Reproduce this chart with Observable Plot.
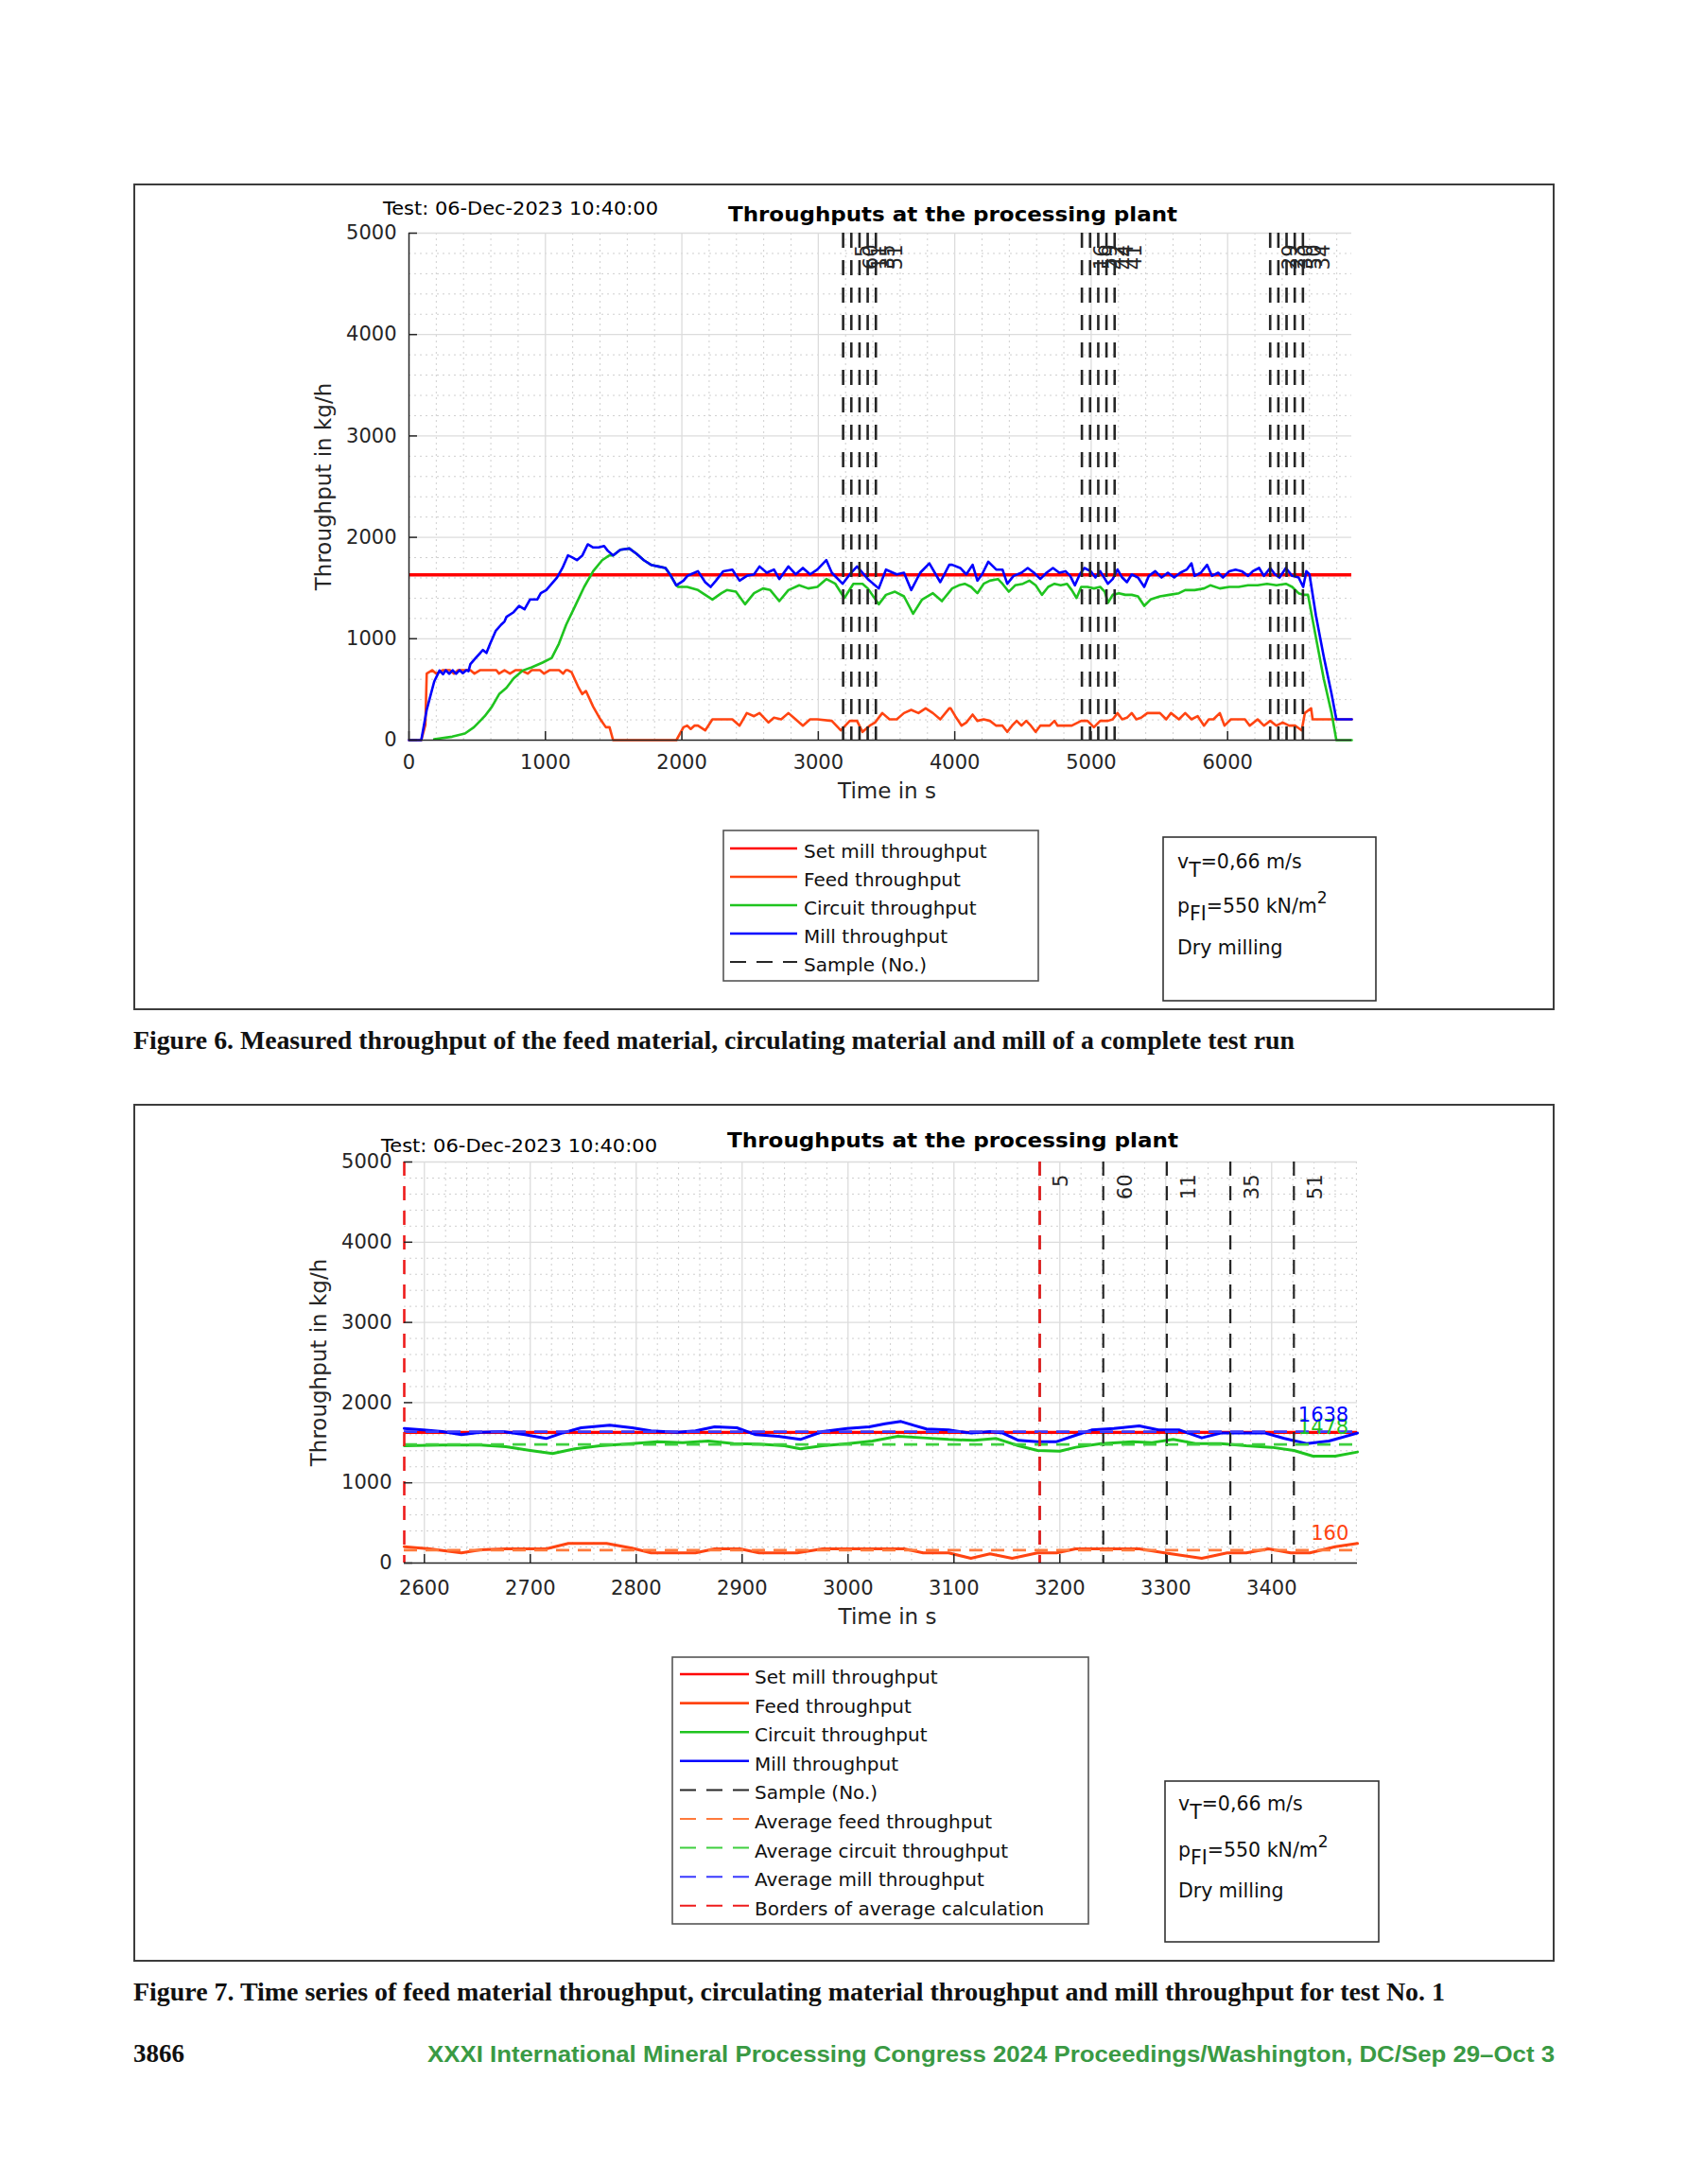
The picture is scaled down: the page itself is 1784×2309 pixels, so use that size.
<!DOCTYPE html>
<html>
<head>
<meta charset="utf-8">
<script src="https://cdn.jsdelivr.net/npm/d3@7"></script>
<script src="https://cdn.jsdelivr.net/npm/@observablehq/plot@0.6"></script>
<style>
  body { margin: 0; background: #fff; }
  #page { position: relative; width: 1784px; height: 2309px; background: #fff; overflow: hidden; }
  #deco { position: absolute; left: 0; top: 0; }
  .chart { position: absolute; }
  .chart svg { max-width: none; }
</style>
</head>
<body>
<div id="page">
  <svg id="deco" width="1784" height="2309"></svg>
  <div id="chart1" class="chart" style="left:300px; top:236px;"></div>
  <div id="chart2" class="chart" style="left:300px; top:1218px;"></div>
</div>
<script>
// ---------------- DATA ----------------
const yTicks = [0, 1000, 2000, 3000, 4000, 5000];
const topXTicks = [0, 1000, 2000, 3000, 4000, 5000, 6000];
const bottomXTicks = [2600, 2700, 2800, 2900, 3000, 3100, 3200, 3300, 3400];
const topXDomain = [0, 6910];
const bottomXDomain = [2581, 3481];
const setMill = 1630;

// Figure 6 – complete test run: [time s, kg/h]
const topFeed = [[0,0],[90,0],[120,150],[130,656],[170,690],[200,656],[250,690],[300,690],[330,656],[360,690],[420,690],[450,690],[480,656],[520,690],[600,690],[640,690],[660,656],[700,690],[740,656],[780,690],[820,690],[870,656],[900,690],[960,690],[990,656],[1030,690],[1100,690],[1130,656],[1150,690],[1165,690],[1191,671],[1244,516],[1270,454],[1297,485],[1350,330],[1403,205],[1443,127],[1470,127],[1496,0],[1960,0],[2012,127],[2039,143],[2065,110],[2092,143],[2118,143],[2171,96],[2224,205],[2290,205],[2370,205],[2423,143],[2476,267],[2529,236],[2569,267],[2635,174],[2675,221],[2728,205],[2781,267],[2834,205],[2887,143],[2940,205],[2993,205],[3099,190],[3165,96],[3231,190],[3284,190],[3324,81],[3377,143],[3416,174],[3469,267],[3522,205],[3575,205],[3628,267],[3681,298],[3734,267],[3787,314],[3840,267],[3894,205],[3960,314],[3970,314],[4004,236],[4050,143],[4085,174],[4131,252],[4166,190],[4212,205],[4258,190],[4304,143],[4350,143],[4385,81],[4420,143],[4454,190],[4489,143],[4524,190],[4558,143],[4593,81],[4627,143],[4696,143],[4731,190],[4754,143],[4858,143],[4927,190],[4973,190],[5020,127],[5066,190],[5123,190],[5158,205],[5193,267],[5227,205],[5262,221],[5297,267],[5331,205],[5366,221],[5412,267],[5504,267],[5550,205],[5585,267],[5643,205],[5689,267],[5735,205],[5781,236],[5827,143],[5862,205],[5896,205],[5943,267],[5977,143],[6024,205],[6070,205],[6127,205],[6162,143],[6220,205],[6266,143],[6312,190],[6358,143],[6404,174],[6450,143],[6496,143],[6543,96],[6566,267],[6612,314],[6623,205],[6910,205]];

const topCircuit = [[185,10],[317,34],[410,65],[476,127],[555,236],[608,330],[661,454],[714,516],[767,609],[834,687],[900,718],[979,765],[1046,811],[1099,951],[1152,1138],[1218,1324],[1284,1511],[1350,1666],[1416,1775],[1469,1822],[1496,1822],[1549,1878],[1615,1890],[1668,1837],[1721,1775],[1774,1729],[1827,1713],[1880,1698],[1920,1620],[1959,1527],[1973,1511],[2039,1511],[2118,1480],[2171,1433],[2224,1387],[2290,1449],[2330,1480],[2396,1464],[2463,1340],[2529,1449],[2595,1496],[2648,1480],[2714,1371],[2781,1480],[2860,1527],[2926,1496],[2993,1511],[3059,1589],[3125,1542],[3191,1402],[3257,1542],[3324,1542],[3363,1496],[3443,1340],[3496,1433],[3562,1464],[3628,1418],[3695,1247],[3761,1387],[3840,1449],[3906,1371],[3981,1496],[4030,1527],[4073,1542],[4120,1511],[4166,1449],[4212,1542],[4258,1573],[4316,1589],[4350,1542],[4396,1464],[4443,1527],[4500,1542],[4547,1573],[4593,1527],[4639,1433],[4685,1511],[4731,1542],[4777,1527],[4823,1542],[4858,1480],[4893,1402],[4927,1511],[4973,1511],[5020,1496],[5066,1511],[5100,1464],[5123,1355],[5158,1433],[5204,1449],[5250,1433],[5297,1433],[5343,1418],[5389,1324],[5435,1387],[5504,1418],[5573,1433],[5643,1449],[5689,1480],[5758,1480],[5827,1496],[5873,1527],[5943,1496],[6012,1511],[6081,1511],[6150,1527],[6220,1527],[6289,1542],[6358,1527],[6427,1542],[6473,1511],[6520,1449],[6554,1433],[6589,1433],[6647,1014],[6704,609],[6762,267],[6797,0],[6910,0]];

const topMill = [[0,0],[90,0],[130,300],[185,578],[224,687],[250,650],[270,690],[295,655],[320,690],[345,655],[370,690],[395,660],[420,690],[436,680],[450,749],[489,811],[542,889],[568,860],[595,951],[635,1076],[675,1138],[700,1170],[715,1216],[767,1262],[807,1324],[847,1290],[887,1387],[940,1387],[966,1449],[1006,1480],[1046,1542],[1085,1604],[1125,1698],[1165,1822],[1191,1806],[1231,1775],[1271,1822],[1310,1931],[1350,1900],[1390,1900],[1430,1915],[1456,1869],[1496,1822],[1549,1878],[1615,1890],[1668,1837],[1721,1775],[1774,1729],[1827,1713],[1880,1698],[1920,1620],[1959,1527],[2012,1573],[2040,1620],[2065,1635],[2118,1666],[2171,1558],[2211,1511],[2250,1573],[2304,1666],[2370,1682],[2423,1573],[2476,1620],[2529,1635],[2569,1713],[2622,1651],[2675,1682],[2714,1589],[2781,1713],[2834,1635],[2887,1698],[2940,1635],[2993,1682],[3059,1775],[3099,1651],[3178,1542],[3231,1635],[3284,1713],[3363,1589],[3443,1496],[3496,1682],[3575,1635],[3628,1651],[3681,1480],[3747,1651],[3814,1744],[3894,1558],[3960,1729],[3981,1729],[4040,1698],[4085,1635],[4131,1729],[4166,1573],[4200,1635],[4246,1760],[4304,1682],[4350,1682],[4385,1542],[4431,1620],[4489,1651],[4535,1698],[4581,1651],[4627,1589],[4673,1651],[4720,1698],[4766,1651],[4812,1666],[4846,1620],[4881,1527],[4916,1635],[4950,1698],[4996,1666],[5031,1604],[5066,1666],[5123,1542],[5158,1589],[5193,1682],[5227,1604],[5262,1558],[5297,1635],[5343,1604],[5389,1511],[5423,1620],[5470,1666],[5516,1604],[5562,1651],[5608,1604],[5654,1651],[5700,1682],[5735,1744],[5758,1620],[5804,1651],[5850,1729],[5885,1620],[5931,1651],[5966,1604],[6012,1666],[6058,1682],[6104,1666],[6150,1620],[6185,1666],[6231,1698],[6266,1620],[6312,1698],[6347,1635],[6381,1604],[6427,1698],[6473,1620],[6520,1604],[6554,1511],[6577,1666],[6600,1635],[6647,1231],[6704,827],[6762,454],[6797,205],[6910,205]];

const topSampleT = [3182, 3242, 3302, 3362, 3422, 4932, 4992, 5052, 5112, 5172, 6312, 6372, 6432, 6492, 6552];
const topSampleLabels = ["5", "60", "11", "35", "51", "16", "59", "42", "44", "41", "29", "23", "30", "50", "34"];

// Figure 7 – averaging window of test No. 1
const bottomFeed = [[2581,204],[2605,177],[2635,126],[2653,165],[2677,177],[2715,177],[2736,244],[2772,244],[2796,185],[2814,126],[2856,126],[2874,177],[2898,177],[2916,126],[2952,126],[2976,177],[3053,177],[3071,126],[3095,126],[3116,59],[3134,114],[3155,59],[3179,126],[3197,126],[3215,177],[3275,177],[3299,126],[3334,59],[3358,126],[3376,126],[3397,177],[3418,126],[3436,126],[3460,204],[3481,244]];
const bottomCircuit = [[2581,1462],[2617,1470],[2653,1470],[2677,1450],[2700,1403],[2721,1364],[2742,1423],[2766,1462],[2796,1490],[2820,1513],[2844,1502],[2868,1521],[2892,1490],[2916,1482],[2940,1462],[2955,1423],[2976,1462],[3000,1490],[3023,1521],[3047,1580],[3071,1561],[3095,1541],[3119,1529],[3140,1553],[3161,1462],[3179,1403],[3200,1395],[3215,1443],[3239,1490],[3269,1513],[3287,1502],[3307,1541],[3328,1490],[3352,1490],[3376,1462],[3400,1443],[3421,1403],[3439,1333],[3460,1333],[3481,1384]];
const bottomMill = [[2581,1678],[2599,1659],[2617,1639],[2635,1600],[2653,1631],[2674,1639],[2695,1600],[2715,1553],[2730,1620],[2748,1686],[2775,1718],[2796,1686],[2814,1647],[2838,1631],[2856,1647],[2874,1698],[2895,1686],[2913,1600],[2934,1580],[2955,1541],[2976,1639],[2999,1678],[3020,1698],[3035,1737],[3050,1765],[3062,1718],[3074,1671],[3095,1659],[3116,1620],[3134,1639],[3146,1620],[3161,1529],[3179,1513],[3197,1513],[3212,1580],[3230,1659],[3251,1678],[3275,1710],[3293,1659],[3313,1659],[3334,1561],[3352,1620],[3376,1620],[3394,1620],[3412,1553],[3433,1490],[3454,1521],[3481,1620]];
const bottomSampleT = [3181, 3241, 3301, 3361, 3421];
const bottomSampleLabels = ["5", "60", "11", "35", "51"];
const borderT = [2581, 3181];
const avgNames = ["feed", "circuit", "mill"];
const avgValues = [160, 1478, 1638];
const avgLabelT = [3437, 3425, 3425];

// Legends
const legendTopNames = ["Set mill throughput", "Feed throughput", "Circuit throughput", "Mill throughput", "Sample (No.)"];
const legendBottomNames = ["Set mill throughput", "Feed throughput", "Circuit throughput", "Mill throughput", "Sample (No.)", "Average feed throughput", "Average circuit throughput", "Average mill throughput", "Borders of average calculation"];

// ---------------- STYLE ----------------
const C = {
  set: "#ff0000", feed: "#ff4411", circuit: "#1fc41f", mill: "#0000ff", sample: "#262626",
  avgFeed: "#ff7a3c", avgCircuit: "#3fcf3f", avgMill: "#3a3aff", border: "#ee1c1c",
  axis: "#262626", gridMajor: "#dcdcdc", gridMinor: "#cfcfcf"
};
const legendTopStyle = [
  {color: C.set, dash: null}, {color: C.feed, dash: null}, {color: C.circuit, dash: null},
  {color: C.mill, dash: null}, {color: C.sample, dash: "17,11"}
];
const legendBottomStyle = legendTopStyle.concat([
  {color: C.avgFeed, dash: "17,11"}, {color: C.avgCircuit, dash: "17,11"},
  {color: C.avgMill, dash: "17,11"}, {color: C.border, dash: "17,11"}
]);
const FONT = "'DejaVu Sans', sans-serif";

const px = d => d[0], py = d => d[1];

// ---------------- CHART 1 ----------------
{
  const W = 1160, H = 634, ML = 132, MR = 31, MT = 10, MB = 88;
  const PW = W - ML - MR, PH = H - MT - MB;
  const samples = topSampleT.map((t, i) => ({t, label: topSampleLabels[i]}));
  const xMinor = d3.range(200, topXDomain[1], 200).filter(v => v % 1000 !== 0);
  const yMinor = d3.range(200, 5000, 200).filter(v => v % 1000 !== 0);
  const chart = Plot.plot({
    width: W, height: H, marginLeft: ML, marginRight: MR, marginTop: MT, marginBottom: MB,
    style: {fontFamily: FONT, fontSize: "21px", background: "transparent", color: C.axis, overflow: "visible"},
    x: {domain: topXDomain},
    y: {domain: [0, 5000]},
    marks: [
      Plot.ruleX(xMinor, {stroke: C.gridMinor, strokeWidth: 1, strokeDasharray: "2,4"}),
      Plot.ruleY(yMinor, {stroke: C.gridMinor, strokeWidth: 1, strokeDasharray: "2,4"}),
      Plot.ruleX(topXTicks.slice(1), {stroke: C.gridMajor, strokeWidth: 1.3}),
      Plot.ruleY(yTicks.slice(1), {stroke: C.gridMajor, strokeWidth: 1.3}),
      Plot.ruleY([setMill], {stroke: C.set, strokeWidth: 3.6}),
      Plot.line(topFeed, {x: px, y: py, stroke: C.feed, strokeWidth: 2.6}),
      Plot.line(topCircuit, {x: px, y: py, stroke: C.circuit, strokeWidth: 2.6}),
      Plot.line(topMill, {x: px, y: py, stroke: C.mill, strokeWidth: 2.6}),
      Plot.ruleX(samples, {x: "t", stroke: C.sample, strokeWidth: 2.6, strokeDasharray: "16,13"}),
      Plot.text(samples, {x: "t", y: () => 5000, text: "label", rotate: -90, textAnchor: "end", lineAnchor: "top", dx: 13, dy: 12, fill: C.axis, fontSize: 21}),
      Plot.ruleY([0], {stroke: C.axis, strokeWidth: 1.5}),
      Plot.ruleX([topXDomain[0]], {stroke: C.axis, strokeWidth: 1.5}),
      Plot.tickY(yTicks, {y: d => d, stroke: C.axis, strokeWidth: 1.5, insetRight: PW - 9}),
      Plot.tickX(topXTicks, {x: d => d, stroke: C.axis, strokeWidth: 1.5, insetTop: PH - 9}),
      Plot.axisX(topXTicks, {tickSize: 0, tickPadding: 16, tickFormat: d => String(d), label: null}),
      Plot.axisY(yTicks, {tickSize: 0, tickPadding: 13, tickFormat: d => String(d), label: null}),
      Plot.text(["Throughput in kg/h"], {text: d => d, frameAnchor: "left", textAnchor: "middle", lineAnchor: "middle", rotate: -90, dx: -90, fontSize: 23, fill: C.axis}),
      Plot.text(["Time in s"], {text: d => d, frameAnchor: "bottom", textAnchor: "middle", dy: 61, dx: 7, fontSize: 23, fill: C.axis})
    ]
  });
  document.getElementById("chart1").append(chart);
}

// ---------------- CHART 2 ----------------
{
  const W = 1160, H = 522, ML = 127, MR = 25, MT = 10, MB = 88;
  const PW = W - ML - MR, PH = H - MT - MB;
  const samples = bottomSampleT.map((t, i) => ({t, label: bottomSampleLabels[i]}));
  const avgColors = [C.avgFeed, C.avgCircuit, C.avgMill];
  const labelColors = [C.feed, C.circuit, C.mill];
  const avgs = avgValues.map((v, i) => ({name: avgNames[i], v, t: avgLabelT[i], color: avgColors[i], lc: labelColors[i]}));
  const xMinor = d3.range(2600, bottomXDomain[1], 20).filter(v => v % 100 !== 0);
  const yMinor = d3.range(200, 5000, 200).filter(v => v % 1000 !== 0);
  const chart = Plot.plot({
    width: W, height: H, marginLeft: ML, marginRight: MR, marginTop: MT, marginBottom: MB,
    style: {fontFamily: FONT, fontSize: "21px", background: "transparent", color: C.axis, overflow: "visible"},
    x: {domain: bottomXDomain},
    y: {domain: [0, 5000]},
    marks: [
      Plot.ruleX(xMinor, {stroke: C.gridMinor, strokeWidth: 1, strokeDasharray: "2,4"}),
      Plot.ruleY(yMinor, {stroke: C.gridMinor, strokeWidth: 1, strokeDasharray: "2,4"}),
      Plot.ruleX(bottomXTicks, {stroke: C.gridMajor, strokeWidth: 1.3}),
      Plot.ruleY(yTicks.slice(1), {stroke: C.gridMajor, strokeWidth: 1.3}),
      Plot.ruleY([setMill], {stroke: C.set, strokeWidth: 3.2}),
      Plot.line(bottomFeed, {x: px, y: py, stroke: C.feed, strokeWidth: 3}),
      Plot.line(bottomCircuit, {x: px, y: py, stroke: C.circuit, strokeWidth: 3}),
      Plot.line(bottomMill, {x: px, y: py, stroke: C.mill, strokeWidth: 3}),
      Plot.ruleX(samples, {x: "t", stroke: C.sample, strokeWidth: 2.2, strokeDasharray: "15,11"}),
      Plot.ruleY(avgs, {y: "v", stroke: "color", strokeWidth: 2.8, strokeDasharray: "14,9"}),
      Plot.ruleX(borderT, {stroke: C.border, strokeWidth: 2.6, strokeDasharray: "15,11"}),
      Plot.text(samples, {x: "t", y: () => 5000, text: "label", rotate: -90, textAnchor: "end", lineAnchor: "top", dx: 15, dy: 13, fill: C.axis, fontSize: 21}),
      Plot.text(avgs, {x: "t", y: "v", text: d => String(d.v), fill: "lc", textAnchor: "start", lineAnchor: "bottom", dy: -11, fontSize: 21}),
      Plot.ruleY([0], {stroke: C.axis, strokeWidth: 1.5}),
      Plot.tickY(yTicks, {y: d => d, stroke: C.axis, strokeWidth: 1.5, insetRight: PW - 9}),
      Plot.tickX(bottomXTicks, {x: d => d, stroke: C.axis, strokeWidth: 1.5, insetTop: PH - 9}),
      Plot.axisX(bottomXTicks, {tickSize: 0, tickPadding: 19, tickFormat: d => String(d), label: null}),
      Plot.axisY(yTicks, {tickSize: 0, tickPadding: 13, tickFormat: d => String(d), label: null}),
      Plot.text(["Throughput in kg/h"], {text: d => d, frameAnchor: "left", textAnchor: "middle", lineAnchor: "middle", rotate: -90, dx: -90, fontSize: 23, fill: C.axis}),
      Plot.text(["Time in s"], {text: d => d, frameAnchor: "bottom", textAnchor: "middle", dy: 64, dx: 7, fontSize: 23, fill: C.axis})
    ]
  });
  document.getElementById("chart2").append(chart);
}

// ---------------- STATIC PAGE ELEMENTS ----------------
const deco = d3.select("#deco");
function frame(x, y, w, h, stroke, sw) {
  deco.append("rect").attr("x", x).attr("y", y).attr("width", w).attr("height", h)
    .attr("fill", "#fff").attr("stroke", stroke).attr("stroke-width", sw);
}
function txt(x, y, s, o = {}) {
  const t = deco.append("text").attr("x", x).attr("y", y).text(s)
    .attr("font-family", o.family || FONT).attr("font-size", o.size || 20)
    .attr("font-weight", o.weight || "normal").attr("fill", o.fill || "#000");
  if (o.anchor) t.attr("text-anchor", o.anchor);
  if (o.len) t.attr("textLength", o.len).attr("lengthAdjust", "spacingAndGlyphs");
  return t;
}

// frames
frame(142, 195, 1501, 872, "#3c3c3c", 2);
frame(142, 1168, 1501, 905, "#3c3c3c", 2);

// chart titles
txt(405, 227, "Test: 06-Dec-2023 10:40:00", {size: 20, len: 291});
txt(770, 234, "Throughputs at the processing plant", {size: 22, weight: "bold", len: 475});
txt(403, 1218, "Test: 06-Dec-2023 10:40:00", {size: 20, len: 292});
txt(769, 1213, "Throughputs at the processing plant", {size: 22, weight: "bold", len: 477});

// legends
function legend(names, styles, box, sw, textX, base0, step) {
  frame(box.x, box.y, box.w, box.h, "#555", 1.6);
  names.forEach((n, i) => {
    const b = base0 + i * step;
    const st = styles[i];
    const l = deco.append("line").attr("x1", sw[0]).attr("x2", sw[1])
      .attr("y1", b - 10).attr("y2", b - 10)
      .attr("stroke", st.color).attr("stroke-width", st.dash ? 2 : 2.6);
    if (st.dash) l.attr("stroke-dasharray", st.dash);
    txt(textX, b, n, {size: 20, fill: "#111"});
  });
}
legend(legendTopNames, legendTopStyle, {x: 765, y: 878, w: 333, h: 159}, [772, 843], 850, 907, 30);
legend(legendBottomNames, legendBottomStyle, {x: 711, y: 1752, w: 440, h: 282}, [719, 792], 798, 1780, 30.6);

// parameter boxes
function params(box, x, bases) {
  frame(box.x, box.y, box.w, box.h, "#333", 1.6);
  const t1 = deco.append("text").attr("x", x).attr("y", bases[0]).attr("font-family", FONT).attr("font-size", 20.5).attr("fill", "#111");
  t1.append("tspan").text("v");
  t1.append("tspan").attr("dy", 9).text("T");
  t1.append("tspan").attr("dy", -9).text("=0,66 m/s");
  const t2 = deco.append("text").attr("x", x).attr("y", bases[1]).attr("font-family", FONT).attr("font-size", 20.5).attr("fill", "#111");
  t2.append("tspan").text("p");
  t2.append("tspan").attr("dy", 8).text("FI");
  t2.append("tspan").attr("dy", -8).text("=550 kN/m");
  t2.append("tspan").attr("dy", -10).attr("font-size", 17).text("2");
  txt(x, bases[2], "Dry milling", {size: 20.5, fill: "#111"});
}
params({x: 1230, y: 885, w: 225, h: 173}, 1245, [918, 965, 1009]);
params({x: 1232, y: 1883, w: 226, h: 170}, 1246, [1914, 1963, 2006]);

// captions
const SERIF = "'Liberation Serif', 'DejaVu Serif', serif";
txt(141, 1109, "Figure 6. Measured throughput of the feed material, circulating material and mill of a complete test run", {family: SERIF, size: 27, weight: "bold", fill: "#111", len: 1228});
txt(141, 2115, "Figure 7. Time series of feed material throughput, circulating material throughput and mill throughput for test No. 1", {family: SERIF, size: 27, weight: "bold", fill: "#111", len: 1387});

// footer
txt(141, 2180, "3866", {family: SERIF, size: 27, weight: "bold", fill: "#111"});
txt(1644, 2180, "XXXI International Mineral Processing Congress 2024 Proceedings/Washington, DC/Sep 29–Oct 3",
  {family: "'Liberation Sans', Arial, sans-serif", size: 24, weight: "bold", fill: "#3a9a44", anchor: "end", len: 1192});
</script>
</body>
</html>
